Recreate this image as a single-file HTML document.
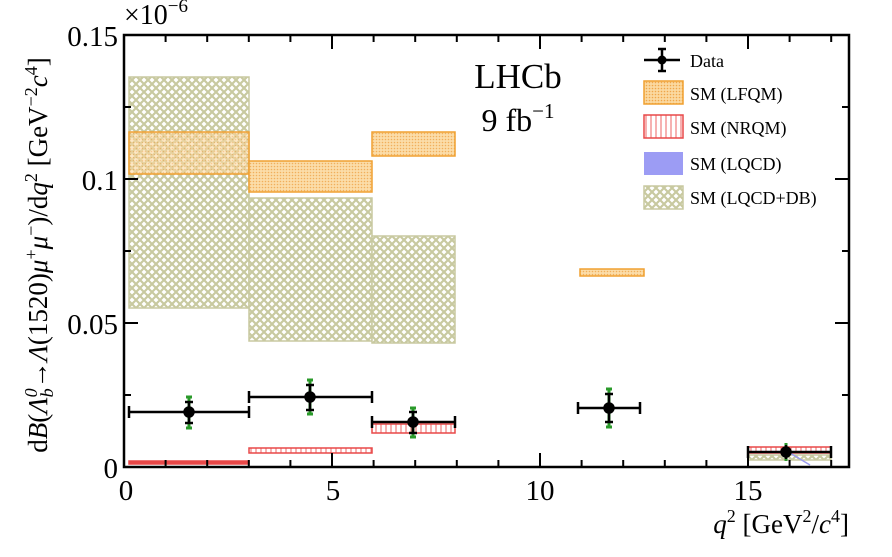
<!DOCTYPE html>
<html><head><meta charset="utf-8"><style>
body{margin:0;background:#fff;}
svg{display:block;font-family:"Liberation Serif",serif;}
</style></head><body>
<svg width="892" height="557" viewBox="0 0 892 557" xmlns="http://www.w3.org/2000/svg">
<defs>
<pattern id="db" width="8" height="8" patternUnits="userSpaceOnUse">
<rect width="8" height="8" fill="#fff"/>
<path d="M0 4L4 0L8 4L4 8Z" fill="none" stroke="#c8c9a0" stroke-width="2.2"/>
</pattern>
<pattern id="lf" width="3" height="3" patternUnits="userSpaceOnUse">
<rect width="3" height="3" fill="#fbd9a0"/>
<circle cx="1.5" cy="1.5" r="0.8" fill="#f0a64a"/>
</pattern>
<pattern id="nr" width="5" height="5" patternUnits="userSpaceOnUse">
<rect width="5" height="5" fill="#fff"/>
<line x1="1" y1="0" x2="1" y2="5" stroke="#f08080" stroke-width="1.2"/>
</pattern>
</defs>
<g stroke="#c8c9a0" stroke-width="1.5" fill="url(#db)">
<rect x="129" y="77" width="120" height="231"/>
<rect x="249" y="198" width="123" height="143"/>
<rect x="372" y="236" width="83" height="107"/>
<rect x="748" y="455" width="83" height="5"/>
</g>
<g stroke="#f0a030" stroke-width="1.5" fill="url(#lf)" fill-opacity="0.9">
<rect x="129" y="132" width="120" height="42" fill-opacity="0.6"/>
<rect x="249" y="161" width="123" height="31"/>
<rect x="372" y="132" width="83" height="24"/>
<rect x="580" y="269" width="64" height="7"/>
</g>
<g stroke="#e84848" stroke-width="1.5" fill="url(#nr)">
<rect x="129" y="461" width="120" height="3" fill="#e84848"/>
<rect x="249" y="448" width="123" height="5"/>
<rect x="372" y="424" width="83" height="9"/>
<rect x="748" y="447" width="83" height="6"/>
</g>
<line x1="790" y1="453" x2="810" y2="465" stroke="#9a9af0" stroke-width="1.5"/>
<g stroke="#2a9a2a" stroke-width="3">
<line x1="189" y1="397" x2="189" y2="428"/><line x1="186" y1="397" x2="192" y2="397"/><line x1="186" y1="428" x2="192" y2="428"/>
<line x1="310" y1="380" x2="310" y2="414"/><line x1="307" y1="380" x2="313" y2="380"/><line x1="307" y1="414" x2="313" y2="414"/>
<line x1="413" y1="408" x2="413" y2="437"/><line x1="410" y1="408" x2="416" y2="408"/><line x1="410" y1="437" x2="416" y2="437"/>
<line x1="609" y1="389" x2="609" y2="427"/><line x1="606" y1="389" x2="612" y2="389"/><line x1="606" y1="427" x2="612" y2="427"/>
<line x1="786" y1="443" x2="786" y2="461"/>
</g>
<g stroke="#000" stroke-width="2.5" fill="#000">
<line x1="129" y1="412" x2="249" y2="412"/><line x1="129" y1="406" x2="129" y2="418"/><line x1="249" y1="406" x2="249" y2="418"/>
<line x1="189" y1="402" x2="189" y2="423"/><line x1="185" y1="402" x2="193" y2="402"/><line x1="185" y1="423" x2="193" y2="423"/><circle cx="189" cy="412" r="4.5"/>
<line x1="249" y1="397" x2="372" y2="397"/><line x1="249" y1="391" x2="249" y2="403"/><line x1="372" y1="391" x2="372" y2="403"/>
<line x1="310" y1="385" x2="310" y2="410"/><line x1="306" y1="385" x2="314" y2="385"/><line x1="306" y1="410" x2="314" y2="410"/><circle cx="310" cy="397" r="4.5"/>
<line x1="372" y1="422" x2="455" y2="422"/><line x1="372" y1="416" x2="372" y2="428"/><line x1="455" y1="416" x2="455" y2="428"/>
<line x1="413" y1="412" x2="413" y2="433"/><line x1="409" y1="412" x2="417" y2="412"/><line x1="409" y1="433" x2="417" y2="433"/><circle cx="413" cy="422" r="4.5"/>
<line x1="578" y1="408" x2="640" y2="408"/><line x1="578" y1="402" x2="578" y2="414"/><line x1="640" y1="402" x2="640" y2="414"/>
<line x1="609" y1="394" x2="609" y2="422"/><line x1="605" y1="394" x2="613" y2="394"/><line x1="605" y1="422" x2="613" y2="422"/><circle cx="609" cy="408" r="4.5"/>
<line x1="748" y1="452" x2="831" y2="452"/><line x1="748" y1="446" x2="748" y2="458"/><line x1="831" y1="446" x2="831" y2="458"/>
<line x1="786" y1="445" x2="786" y2="459"/><circle cx="786" cy="452" r="4.5"/>
</g>
<rect x="124" y="35" width="725" height="432" fill="none" stroke="#000" stroke-width="2.5"/>
<g stroke="#000" stroke-width="2">
<path d="M165.6 467v-7M207.2 467v-7M248.8 467v-7M290.4 467v-7M332 467v-14M373.6 467v-7M415.2 467v-7M456.8 467v-7M498.4 467v-7M540 467v-14M581.6 467v-7M623.2 467v-7M664.8 467v-7M706.4 467v-7M748 467v-14M789.6 467v-7M831.2 467v-7"/>
<path d="M165.6 35v7M207.2 35v7M248.8 35v7M290.4 35v7M332 35v14M373.6 35v7M415.2 35v7M456.8 35v7M498.4 35v7M540 35v14M581.6 35v7M623.2 35v7M664.8 35v7M706.4 35v7M748 35v14M789.6 35v7M831.2 35v7"/>
<path d="M124 323h14M124 179h14M124 395h7M124 251h7M124 107h7M849 323h-14M849 179h-14M849 395h-7M849 251h-7M849 107h-7"/>
</g>
<g font-size="29" text-anchor="middle">
<text x="126" y="500">0</text><text x="333" y="500">5</text><text x="540" y="500">10</text><text x="748" y="500">15</text>
</g>
<g font-size="29" text-anchor="end">
<text x="118" y="478">0</text><text x="118" y="334">0.05</text><text x="118" y="190">0.1</text><text x="118" y="46">0.15</text>
</g>
<text x="124" y="24" font-size="28">×10<tspan font-size="19" dy="-12">−6</tspan></text>
<text x="849" y="533" font-size="27" text-anchor="end"><tspan font-style="italic">q</tspan><tspan font-size="18" dy="-11">2</tspan><tspan dy="11"> [GeV</tspan><tspan font-size="18" dy="-11">2</tspan><tspan dy="11">/</tspan><tspan font-style="italic">c</tspan><tspan font-size="18" dy="-11">4</tspan><tspan dy="11">]</tspan></text>
<text transform="translate(47,255) rotate(-90)" font-size="27" text-anchor="middle">d<tspan font-style="italic">B</tspan>(<tspan font-style="italic">Λ</tspan><tspan font-size="18" dy="6" font-style="italic">b</tspan><tspan font-size="18" dx="-9" dy="-16" font-style="italic">0</tspan><tspan dy="10">→</tspan><tspan font-style="italic">Λ</tspan>(1520)<tspan font-style="italic">μ</tspan><tspan font-size="18" dy="-10">+</tspan><tspan font-style="italic" dy="10">μ</tspan><tspan font-size="18" dy="-10">−</tspan><tspan dy="10">)/d</tspan><tspan font-style="italic">q</tspan><tspan font-size="18" dy="-10">2</tspan><tspan dy="10"> [GeV</tspan><tspan font-size="18" dy="-10">−2</tspan><tspan font-style="italic" dy="10">c</tspan><tspan font-size="18" dy="-10">4</tspan><tspan dy="10">]</tspan></text>
<text x="518" y="88" font-size="35" text-anchor="middle">LHCb</text>
<text x="518" y="131" font-size="32" text-anchor="middle">9 fb<tspan font-size="21" dy="-13">−1</tspan></text>
<g stroke="#000" stroke-width="2.5">
<line x1="644" y1="60" x2="680" y2="60"/><line x1="662" y1="49" x2="662" y2="71"/><line x1="658" y1="49" x2="666" y2="49"/><line x1="658" y1="71" x2="666" y2="71"/>
</g>
<circle cx="662" cy="60" r="4.5"/>
<rect x="644" y="81" width="39" height="23" fill="url(#lf)" stroke="#f0a030" stroke-width="1.5"/>
<rect x="644" y="115" width="39" height="23" fill="url(#nr)" stroke="#e84848" stroke-width="1.5"/>
<rect x="644" y="152" width="39" height="23" fill="#9c9cf4"/>
<rect x="644" y="186" width="39" height="23" fill="url(#db)" stroke="#c8c9a0" stroke-width="1.5"/>
<g font-size="18">
<text x="690" y="67">Data</text>
<text x="690" y="100">SM (LFQM)</text>
<text x="690" y="134">SM (NRQM)</text>
<text x="690" y="170">SM (LQCD)</text>
<text x="690" y="204">SM (LQCD+DB)</text>
</g>
</svg>
</body></html>
